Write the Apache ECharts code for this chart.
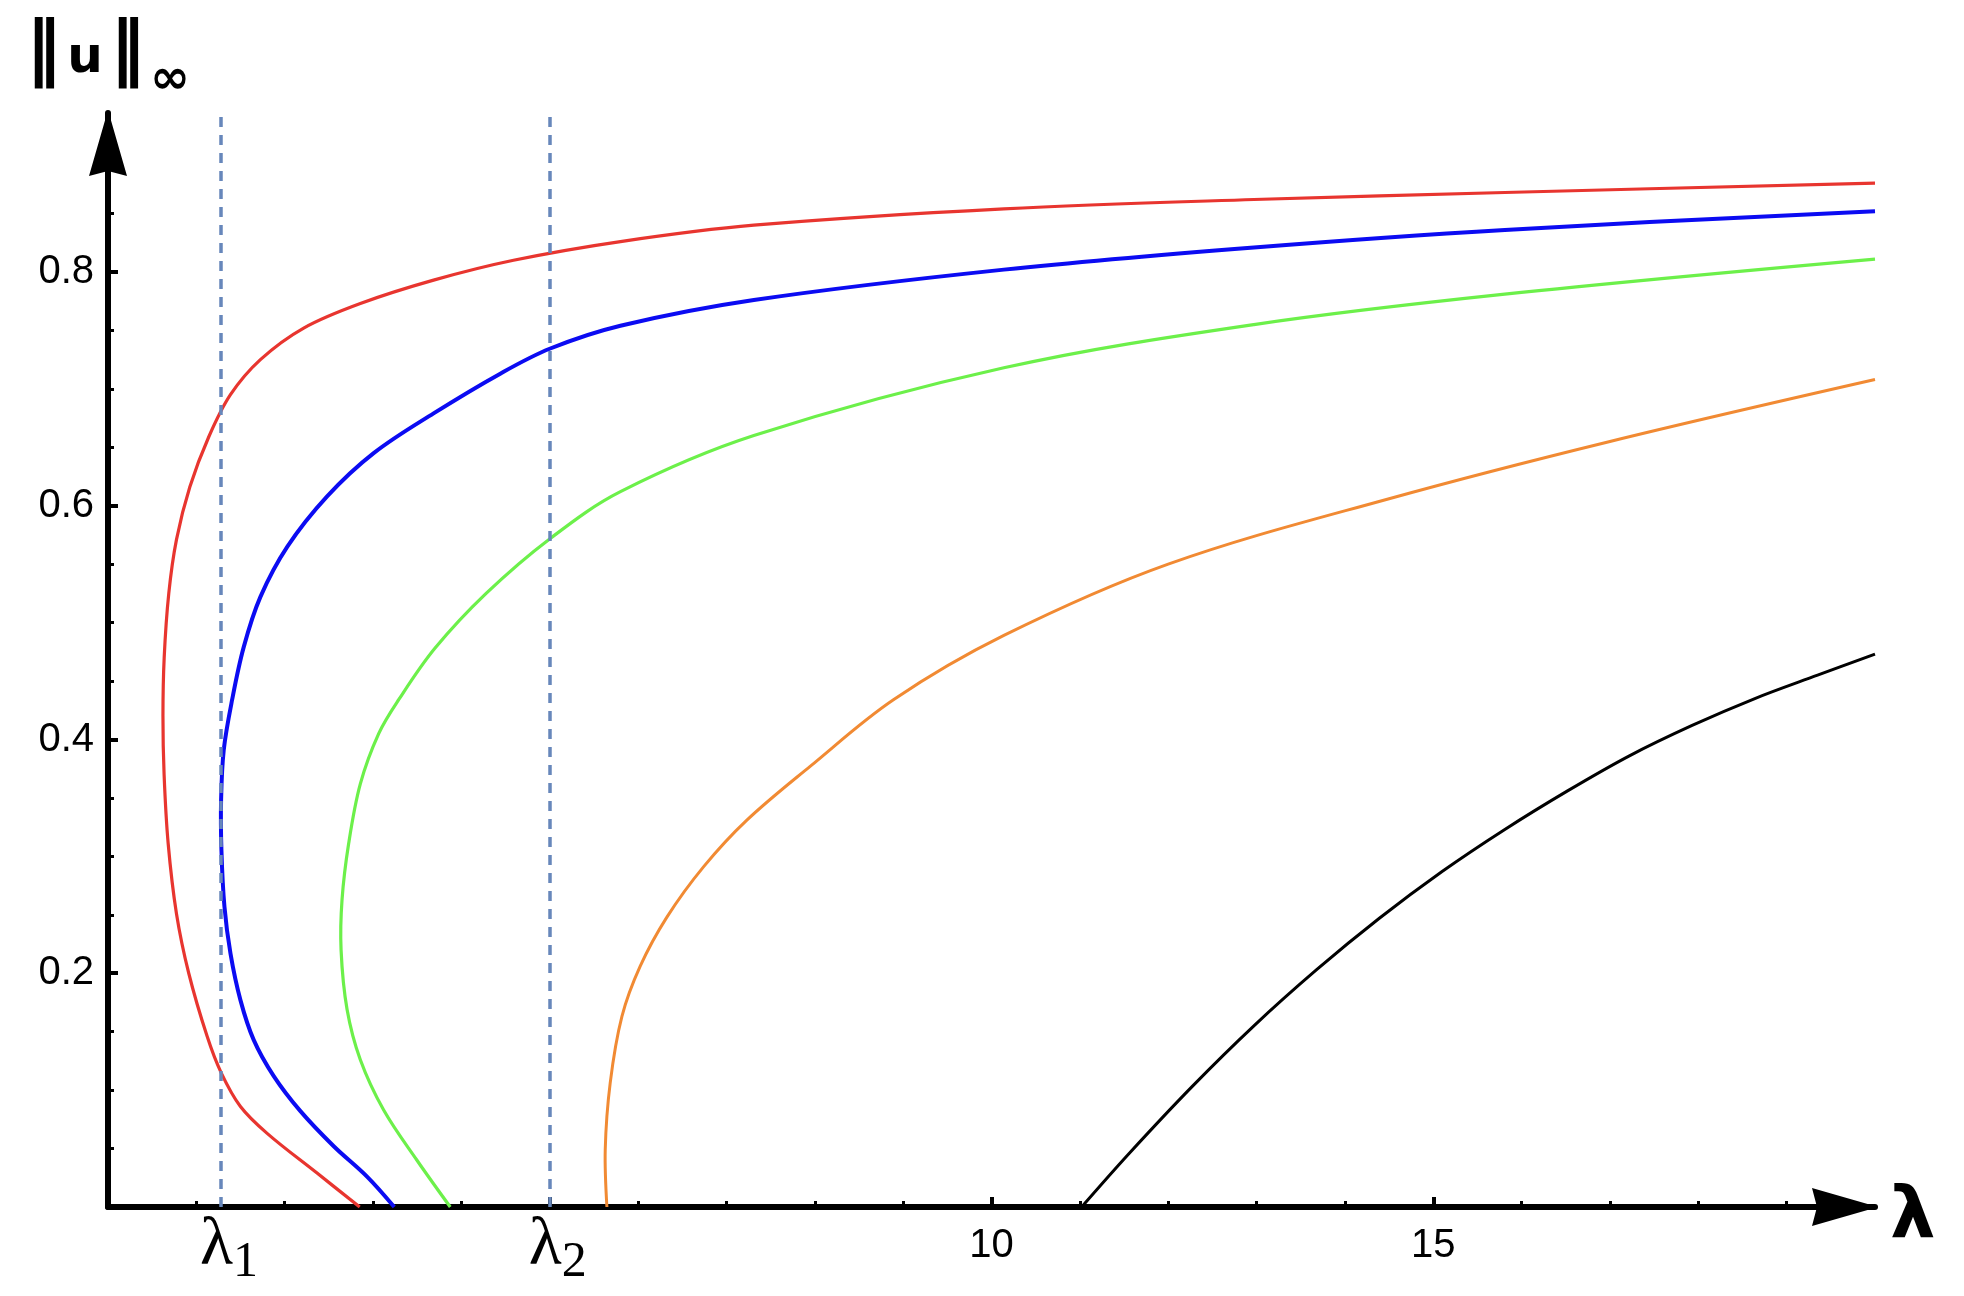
<!DOCTYPE html>
<html>
<head>
<meta charset="utf-8">
<title>‖u‖∞ vs λ</title>
<script src="https://cdn.jsdelivr.net/npm/echarts@6/dist/echarts.min.js"></script>
<style>
  html, body { margin: 0; padding: 0; background: #fff; }
  #main { width: 1964px; height: 1296px; }
</style>
</head>
<body>
<div id="main"></div>
<script>
// bifurcation values marked on the λ axis
const lambda1 = 1.28;
const lambda2 = 5;

// axis ranges (the arrow tips sit at the maxima)
const xMax = 20;
const yMax = 0.936;

// tick positions and labels
const xLabelValues = [lambda1, lambda2, 10, 15];
const xMajorTicks = [5, 10, 15];
const xMinorTicks = [1, 2, 3, 4, 6, 7, 8, 9, 11, 12, 13, 14, 16, 17, 18, 19];
const yLabelValues = [0.2, 0.4, 0.6, 0.8];
const yMinorTicks = [0.05, 0.1, 0.15, 0.25, 0.3, 0.35, 0.45, 0.5, 0.55, 0.65, 0.7, 0.75, 0.85];

// solution branches, [λ, ‖u‖∞]
const redCurve = [
  [2.849, 0], [2.366, 0.029], [1.801, 0.063], [1.499, 0.086], [1.28, 0.115], [1.122, 0.146],
  [0.914, 0.2], [0.775, 0.251], [0.681, 0.311], [0.635, 0.37], [0.622, 0.42], [0.636, 0.47],
  [0.688, 0.525], [0.775, 0.571], [0.926, 0.616], [1.141, 0.659], [1.386, 0.695], [1.725, 0.725],
  [2.215, 0.752], [2.856, 0.773], [3.685, 0.793], [4.59, 0.81], [5.8, 0.826], [7.31, 0.84],
  [10.14, 0.854], [12.97, 0.862], [15.81, 0.868], [20, 0.876]
];
const blueCurve = [
  [3.24, 0], [2.932, 0.026], [2.555, 0.052], [2.178, 0.082], [1.876, 0.112], [1.649, 0.143],
  [1.499, 0.177], [1.386, 0.217], [1.318, 0.257], [1.284, 0.305], [1.28, 0.348], [1.31, 0.391],
  [1.405, 0.434], [1.536, 0.479], [1.725, 0.522], [2.03, 0.565], [2.48, 0.608], [3.007, 0.645],
  [3.685, 0.679], [4.44, 0.713], [5.006, 0.7345], [5.8, 0.754], [7.31, 0.776], [10.14, 0.802],
  [12.97, 0.821], [15.81, 0.836], [20, 0.852]
];
const greenCurve = [
  [3.874, 0], [3.497, 0.04], [3.12, 0.083], [2.856, 0.126], [2.706, 0.169], [2.638, 0.22],
  [2.649, 0.263], [2.724, 0.311], [2.856, 0.362], [3.064, 0.405], [3.29, 0.434], [3.7, 0.478],
  [4.28, 0.525], [5.006, 0.572], [5.8, 0.612], [7.31, 0.66], [10.14, 0.718], [12.97, 0.755],
  [15.81, 0.781], [20, 0.811]
];
const orangeCurve = [
  [5.647, 0], [5.628, 0.049], [5.684, 0.106], [5.817, 0.163], [6.024, 0.206], [6.326, 0.248],
  [6.74, 0.291], [7.231, 0.331], [7.947, 0.377], [8.89, 0.434], [10.14, 0.489], [12.0, 0.55],
  [14.5, 0.606], [17.0, 0.655], [20, 0.708]
];
const blackCurve = [
  [11.02, 0], [11.56, 0.046], [12.27, 0.103], [12.97, 0.155], [13.68, 0.203], [14.39, 0.247],
  [15.1, 0.287], [15.81, 0.323], [16.52, 0.356], [17.22, 0.386], [17.93, 0.412], [18.64, 0.435],
  [19.35, 0.455], [20, 0.473]
];

const axisColor = "#000";
const arrowPath = "path://M19,0 L38,66 L19,61 L0,66 Z";

const myChart = echarts.init(document.getElementById("main"));

// each branch is one smooth path; points go through the cartesian axes via api.coord
function curve(data, color, width) {
  return {
    type: "custom",
    coordinateSystem: "cartesian2d",
    xAxisIndex: 0,
    yAxisIndex: 0,
    data: [data[0]],
    z: 3,
    renderItem: function (params, api) {
      return {
        type: "polyline",
        shape: {
          points: data.map(function (p) {
            return api.coord(p);
          }),
          smooth: 0.35,
        },
        style: {
          fill: "none",
          stroke: color,
          lineWidth: width,
          lineJoin: "round",
        },
      };
    },
  };
}

function nameText(text, x, y, size) {
  return {
    type: "text",
    x: x,
    y: y,
    style: {
      text: text,
      fontFamily: "DejaVu Sans",
      fontWeight: "bold",
      fontSize: size,
      fill: axisColor,
      align: "center",
      verticalAlign: "middle",
    },
  };
}

myChart.setOption({
  animation: false,
  backgroundColor: "#fff",
  grid: {
    left: 108,
    right: 89,
    top: 113,
    bottom: 89,
    outerBoundsMode: "none",
  },
  // y axis title ‖u‖∞
  graphic: [
    nameText("‖", 43.5, 53, 71),
    nameText("u", 85, 59, 50),
    nameText("‖", 127.5, 53, 71),
    nameText("∞", 170, 81, 48),
  ],
  xAxis: [
    {
      type: "value",
      position: "bottom",
      min: 0,
      max: xMax,
      name: "{a|λ}",
      nameLocation: "end",
      nameGap: 15,
      nameTextStyle: {
        rich: {
          a: {
            fontFamily: "DejaVu Sans",
            fontWeight: "bold",
            fontSize: 72,
            color: axisColor,
            padding: [22, 0, 0, 0],
          },
        },
      },
      axisLine: {
        show: true,
        onZero: false,
        symbol: ["none", arrowPath],
        symbolSize: [38, 66],
        symbolOffset: [0, -30],
        lineStyle: { color: axisColor, width: 6 },
      },
      axisTick: {
        show: true,
        inside: true,
        length: 10,
        customValues: xMajorTicks,
        lineStyle: { color: axisColor, width: 4 },
      },
      axisLabel: {
        customValues: xLabelValues,
        margin: 5,
        color: axisColor,
        formatter: function (v) {
          if (Math.abs(v - lambda1) < 1e-6) return "{l|λ}{s|1}";
          if (Math.abs(v - lambda2) < 1e-6) return "{l|λ}{s|2}";
          return "{d|" + v + "}";
        },
        rich: {
          l: { fontFamily: "Liberation Serif", fontSize: 68, color: axisColor, padding: [0, 0, 8, 16] },
          s: { fontFamily: "Liberation Serif", fontSize: 50, color: axisColor, padding: [26, 0, 0, 0] },
          d: { fontFamily: "Liberation Sans", fontSize: 40, color: axisColor, padding: [14, 0, 0, 0] },
        },
      },
      splitLine: { show: false },
    },
    {
      type: "value",
      position: "bottom",
      min: 0,
      max: xMax,
      axisLine: { show: false, onZero: false },
      axisTick: {
        show: true,
        inside: true,
        length: 6,
        customValues: xMinorTicks,
        lineStyle: { color: axisColor, width: 3 },
      },
      axisLabel: { show: false },
      splitLine: { show: false },
    },
  ],
  yAxis: [
    {
      type: "value",
      position: "left",
      min: 0,
      max: yMax,
      axisLine: {
        show: true,
        onZero: false,
        symbol: ["none", arrowPath],
        symbolSize: [38, 66],
        symbolOffset: [0, -30],
        lineStyle: { color: axisColor, width: 6 },
      },
      axisTick: {
        show: true,
        inside: true,
        length: 10,
        customValues: yLabelValues,
        lineStyle: { color: axisColor, width: 4 },
      },
      axisLabel: {
        customValues: yLabelValues,
        margin: 14,
        fontFamily: "Liberation Sans",
        fontSize: 40,
        color: axisColor,
        formatter: function (v) {
          return v.toFixed(1);
        },
      },
      splitLine: { show: false },
    },
    {
      type: "value",
      position: "left",
      min: 0,
      max: yMax,
      axisLine: { show: false, onZero: false },
      axisTick: {
        show: true,
        inside: true,
        length: 6,
        customValues: yMinorTicks,
        lineStyle: { color: axisColor, width: 3 },
      },
      axisLabel: { show: false },
      splitLine: { show: false },
    },
  ],
  series: [
    curve(redCurve, "#e8352f", 3.2),
    curve(blueCurve, "#0b0bf2", 4),
    curve(greenCurve, "#6cf04a", 3.2),
    curve(orangeCurve, "#f18a33", 3),
    curve(blackCurve, "#000000", 3),
    {
      // dashed markers at λ1 and λ2
      type: "line",
      data: [],
      xAxisIndex: 0,
      yAxisIndex: 0,
      z: 4,
      markLine: {
        silent: true,
        symbol: ["none", "none"],
        label: { show: false },
        lineStyle: { color: "#6787bb", width: 3.5, type: [10, 8] },
        data: [{ xAxis: lambda1 }, { xAxis: lambda2 }],
      },
    },
  ],
});
</script>
</body>
</html>
